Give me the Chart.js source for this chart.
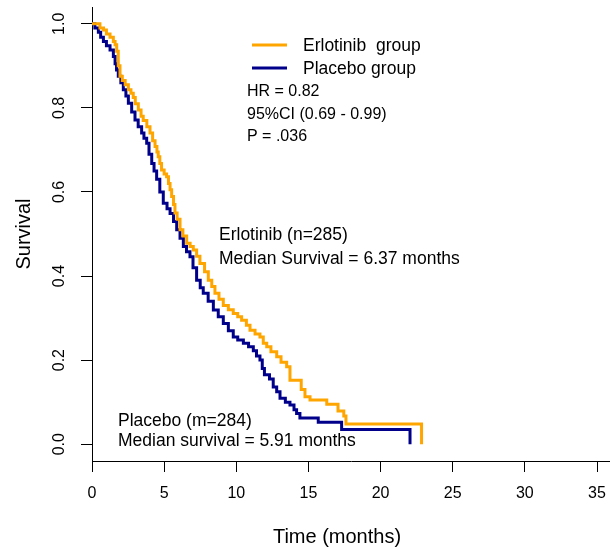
<!DOCTYPE html>
<html>
<head>
<meta charset="utf-8">
<script src="https://cdn.jsdelivr.net/npm/chart.js@4.4.1/dist/chart.umd.min.js"></script>
<style>
  html, body { margin: 0; padding: 0; background: #fff; }
  #wrap { width: 610px; height: 548px; position: relative; }
</style>
</head>
<body>
<div id="wrap"><canvas id="myChart" width="610" height="548"></canvas></div>
<script>
// Kaplan-Meier estimates: [months, survival]
var erlotinibTime = [0, 0.55, 0.8, 1.0, 1.25, 1.48, 1.6, 1.71, 1.82, 1.94, 2.1, 2.3, 2.52, 2.7, 2.86, 3.0, 3.21, 3.4, 3.55, 3.8, 4.02, 4.2, 4.37, 4.5, 4.59, 4.7, 4.82, 5.0, 5.17, 5.3, 5.41, 5.52, 5.65, 5.75, 5.9, 6.1, 6.3, 6.56, 6.8, 7.02, 7.25, 7.48, 7.8, 8.06, 8.3, 8.52, 8.8, 9.1, 9.45, 9.79, 10.1, 10.37, 10.7, 10.95, 11.3, 11.64, 11.87, 12.11, 12.4, 12.8, 13.1, 13.49, 13.72, 14.5, 14.76, 15.11, 16.27, 17.05, 17.45, 17.6, 22.84, 22.84];
var erlotinibSurv = [1, 0.99, 0.985, 0.976, 0.968, 0.958, 0.95, 0.935, 0.9, 0.875, 0.865, 0.855, 0.843, 0.835, 0.825, 0.81, 0.795, 0.78, 0.77, 0.755, 0.74, 0.722, 0.708, 0.695, 0.684, 0.668, 0.652, 0.643, 0.636, 0.62, 0.605, 0.589, 0.57, 0.55, 0.535, 0.51, 0.495, 0.478, 0.47, 0.462, 0.447, 0.43, 0.41, 0.39, 0.375, 0.359, 0.345, 0.33, 0.32, 0.311, 0.303, 0.295, 0.283, 0.271, 0.262, 0.255, 0.24, 0.232, 0.22, 0.208, 0.195, 0.184, 0.152, 0.13, 0.113, 0.105, 0.095, 0.079, 0.067, 0.048, 0.048, 0];

var placeboTime = [0, 0.2, 0.44, 0.6, 0.79, 1.0, 1.25, 1.48, 1.6, 1.7, 1.82, 2.0, 2.17, 2.35, 2.52, 2.75, 2.98, 3.2, 3.44, 3.6, 3.79, 3.95, 4.14, 4.3, 4.48, 4.7, 4.94, 5.2, 5.41, 5.65, 5.87, 6.1, 6.33, 6.55, 6.79, 7.0, 7.25, 7.5, 7.71, 8.05, 8.41, 8.75, 9.1, 9.45, 9.79, 10.1, 10.49, 10.85, 11.18, 11.4, 11.64, 11.8, 11.95, 12.3, 12.56, 12.8, 13.03, 13.4, 13.72, 14.0, 14.18, 14.41, 15.68, 17.3, 22.04, 22.04];
var placeboSurv = [1, 0.99, 0.98, 0.968, 0.958, 0.948, 0.938, 0.922, 0.905, 0.89, 0.875, 0.86, 0.843, 0.828, 0.811, 0.79, 0.771, 0.755, 0.74, 0.728, 0.716, 0.69, 0.668, 0.65, 0.63, 0.6, 0.573, 0.56, 0.549, 0.53, 0.51, 0.49, 0.47, 0.458, 0.446, 0.42, 0.39, 0.372, 0.359, 0.34, 0.319, 0.303, 0.287, 0.27, 0.255, 0.248, 0.24, 0.232, 0.222, 0.21, 0.2, 0.18, 0.165, 0.155, 0.136, 0.125, 0.109, 0.1, 0.093, 0.082, 0.073, 0.062, 0.052, 0.035, 0.035, 0];

var xTicks = [0, 5, 10, 15, 20, 25, 30, 35];
var yTicks = [0, 0.2, 0.4, 0.6, 0.8, 1.0];
var seriesNames = ["Erlotinib  group", "Placebo group"];
var seriesColors = ["#FFA500", "#00008B"];
var statsText = ["HR = 0.82", "95%CI (0.69 - 0.99)", "P = .036"];
var erlotinibNote = ["Erlotinib (n=285)", "Median Survival = 6.37 months"];
var placeboNote = ["Placebo (m=284)", "Median survival = 5.91 months"];

var FONT = "'Liberation Sans', Arial, sans-serif";

function toPoints(xs, ys) {
  var pts = [];
  for (var i = 0; i < xs.length; i++) pts.push({ x: xs[i], y: ys[i] });
  return pts;
}

// legend, statistics and notes drawn as text on the canvas
var notesPlugin = {
  id: "notes",
  afterDraw: function (chart) {
    var ctx = chart.ctx;
    ctx.save();
    ctx.fillStyle = "#000";
    ctx.textBaseline = "alphabetic";
    ctx.textAlign = "left";

    // legend
    ctx.lineWidth = 3;
    ctx.strokeStyle = seriesColors[0];
    ctx.beginPath(); ctx.moveTo(252, 45); ctx.lineTo(287, 45); ctx.stroke();
    ctx.strokeStyle = seriesColors[1];
    ctx.beginPath(); ctx.moveTo(252, 68); ctx.lineTo(287, 68); ctx.stroke();
    ctx.font = "17.5px " + FONT;
    ctx.fillText(seriesNames[0], 303, 51);
    ctx.fillText(seriesNames[1], 303, 74);

    ctx.font = "16px " + FONT;
    ctx.fillText(statsText[0], 247, 96);
    ctx.fillText(statsText[1], 247, 118.5);
    ctx.fillText(statsText[2], 247, 141);

    ctx.font = "17.5px " + FONT;
    ctx.fillText(erlotinibNote[0], 219, 239.5);
    ctx.fillText(erlotinibNote[1], 219, 263.5);
    ctx.fillText(placeboNote[0], 118, 426);
    ctx.fillText(placeboNote[1], 118, 445.5);

    // x axis title
    ctx.font = "20px " + FONT;
    ctx.textAlign = "center";
    ctx.textBaseline = "middle";
    ctx.fillText("Time (months)", 337, 537);
    ctx.restore();
  }
};

new Chart("myChart", {
  type: "line",
  data: {
    datasets: [
      {
        label: seriesNames[0],
        data: toPoints(erlotinibTime, erlotinibSurv),
        borderColor: seriesColors[0],
        borderWidth: 3,
        pointRadius: 0,
        stepped: "before",
        fill: false
      },
      {
        label: seriesNames[1],
        data: toPoints(placeboTime, placeboSurv),
        borderColor: seriesColors[1],
        borderWidth: 3,
        pointRadius: 0,
        stepped: "before",
        fill: false
      }
    ]
  },
  options: {
    responsive: false,
    animation: false,
    layout: { padding: { top: 7, right: 0, left: 0, bottom: 0 } },
    plugins: {
      legend: { display: false },
      tooltip: { enabled: false }
    },
    scales: {
      x: {
        type: "linear",
        min: 0,
        max: 35.9,
        afterFit: function (scale) {
          scale.height = 87;
          scale.paddingLeft = 0;
          scale.paddingRight = 0;
        },
        afterBuildTicks: function (scale) {
          scale.ticks = xTicks.map(function (v) { return { value: v }; });
        },
        grid: { drawOnChartArea: false, tickLength: 11, color: "#000", tickWidth: 1 },
        border: { color: "#000", width: 1 },
        ticks: {
          color: "#000",
          font: { family: FONT, size: 16 },
          padding: 12,
          maxRotation: 0,
          autoSkip: false
        },
        title: { display: false }
      },
      y: {
        min: -0.04,
        max: 1.04,
        afterFit: function (scale) {
          scale.width = 92;
          scale.paddingTop = 0;
          scale.paddingBottom = 0;
        },
        afterBuildTicks: function (scale) {
          scale.ticks = yTicks.map(function (v) { return { value: v }; });
        },
        grid: { drawOnChartArea: false, tickLength: 11, color: "#000", tickWidth: 1 },
        border: { color: "#000", width: 1 },
        ticks: {
          color: "#000",
          font: { family: FONT, size: 16 },
          minRotation: 90,
          maxRotation: 90,
          crossAlign: "center",
          padding: 10,
          callback: function (v) { return v.toFixed(1); }
        },
        title: {
          display: true,
          text: "Survival",
          color: "#000",
          font: { family: FONT, size: 20 },
          padding: { top: 12, bottom: 0 }
        }
      }
    }
  },
  plugins: [notesPlugin]
});
</script>
</body>
</html>
